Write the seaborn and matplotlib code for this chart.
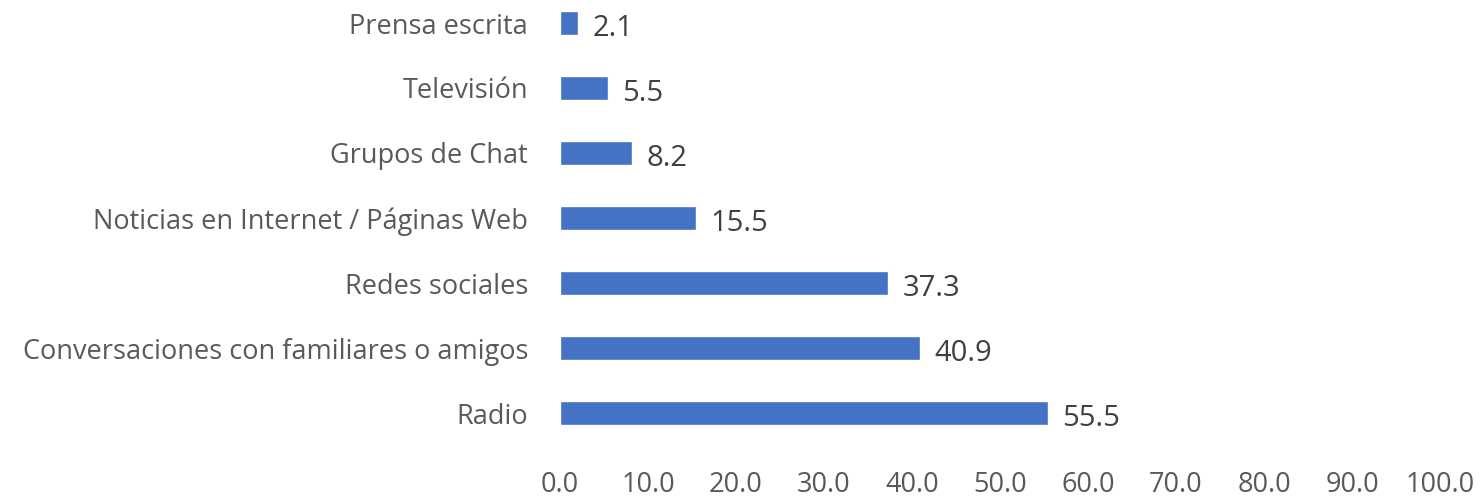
import matplotlib
matplotlib.use("Agg")
import matplotlib.pyplot as plt
import seaborn as sns
import pandas as pd

categories = ["Prensa escrita", "Televisión", "Grupos de Chat",
              "Noticias en Internet / Páginas Web", "Redes sociales",
              "Conversaciones con familiares o amigos", "Radio"]
values = [2.1, 5.5, 8.2, 15.5, 37.3, 40.9, 55.5]
x_ticks = [0, 10, 20, 30, 40, 50, 60, 70, 80, 90, 100]

df = pd.DataFrame({"medio": categories, "pct": values})

sns.set_theme(style="white")
plt.rcParams['font.family'] = ['Open Sans', 'DejaVu Sans']
text_color = "#595959"

fig = plt.figure(figsize=(14.81, 5.0), dpi=100)
ax = fig.add_axes([560 / 1481, (500 - 445.5) / 500, 880 / 1481, 455 / 500])

sns.barplot(data=df, y="medio", x="pct", orient="h", color="#4472C4",
            saturation=1, width=0.37, ax=ax)

for i, v in enumerate(values):
    ax.text(v + 1.6, i + 0.09, f"{v:.1f}", va="center", ha="left",
            fontsize=21, color="#404040")

ax.set_xlim(0, 100)
ax.set_ylim(len(categories) - 0.5, -0.5)
ax.set_xticks(x_ticks)
ax.set_xticklabels([f"{t:.1f}" for t in x_ticks], fontsize=19.5, color=text_color)
ax.set_yticklabels(categories, fontsize=19.5, color=text_color)
ax.tick_params(axis="both", length=0)
ax.tick_params(axis="x", pad=18)
ax.tick_params(axis="y", pad=23)
ax.set_xlabel("")
ax.set_ylabel("")
for s in ax.spines.values():
    s.set_visible(False)

fig.savefig("out.png", dpi=100)
